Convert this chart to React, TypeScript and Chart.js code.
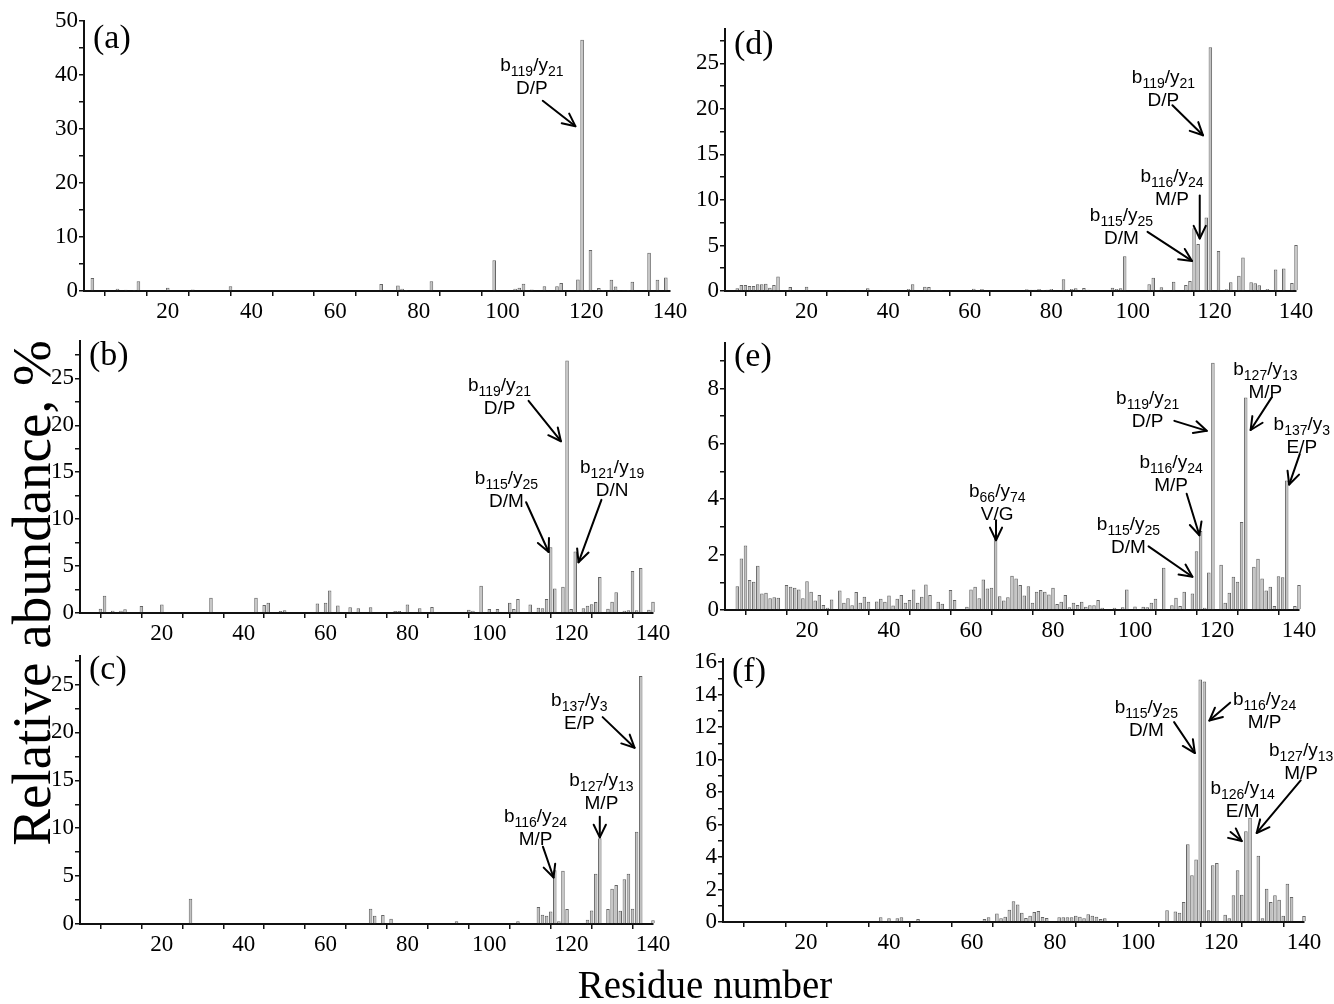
import React, { useEffect, useRef } from 'react';
import { Chart, registerables } from 'chart.js';

Chart.register(...registerables);

// ---------- data: [residue, relative abundance %] ----------
const BARS_A: [number, number][] = [
  [2, 2.4], [8, 0.4], [10, 0.25], [12, 0.2], [13, 1.8], [20, 0.6], [26, 0.3], [35, 0.9], [71, 1.3], [75, 1.0],
  [76, 0.4], [77, 0.2], [83, 1.8], [98, 5.7], [103, 0.4], [104, 0.6], [105, 1.35], [107, 0.3], [110, 0.9],
  [113, 0.9], [114, 1.5], [118, 2.15], [119, 46.5], [121, 7.6], [123, 0.55], [124, 0.2], [126, 2.1], [127, 0.85],
  [129, 0.1], [130, 0.2], [131, 1.7], [135, 7.1], [137, 2.1], [139, 2.5],
];
const BARS_B: [number, number][] = [
  [5, 0.46], [6, 1.84], [8, 0.25], [10, 0.25], [11, 0.4], [15, 0.75], [20, 0.9], [32, 1.63], [43, 1.63], [45, 0.85],
  [46, 1.1], [49, 0.2], [50, 0.3], [58, 1.0], [60, 1.1], [61, 2.4], [63, 0.8], [66, 0.6], [68, 0.5], [71, 0.6],
  [77, 0.2], [78, 0.2], [80, 0.9], [83, 0.5], [86, 0.64], [95, 0.35], [96, 0.25], [98, 2.9], [100, 0.43],
  [102, 0.43], [105, 1.1], [106, 0.43], [107, 1.5], [110, 0.9], [112, 0.57], [113, 0.5], [114, 1.5], [115, 7.0],
  [116, 2.6], [118, 2.8], [119, 26.9], [120, 0.43], [121, 6.56], [123, 0.5], [124, 0.78], [125, 0.92],
  [126, 1.17], [127, 3.83], [129, 0.46], [130, 1.2], [131, 2.2], [133, 0.25], [134, 0.3], [135, 4.47],
  [136, 0.3], [137, 4.8], [139, 0.35], [140, 1.2],
];
const BARS_C: [number, number][] = [
  [27, 2.64], [71, 1.6], [72, 0.87], [74, 0.94], [76, 0.55], [92, 0.28], [107, 0.28], [112, 1.77], [113, 0.97],
  [114, 0.87], [115, 1.3], [116, 5.6], [117, 0.28], [118, 5.55], [119, 1.56], [124, 0.45], [125, 1.42],
  [126, 5.24], [127, 8.95], [129, 1.56], [130, 3.68], [131, 4.06], [132, 1.39], [133, 4.68], [134, 5.24],
  [135, 1.6], [136, 9.64], [137, 25.9], [140, 0.38],
];
const BARS_D: [number, number][] = [
  [3, 0.3], [4, 0.66], [5, 0.66], [6, 0.55], [7, 0.55], [8, 0.73], [9, 0.73], [10, 0.8], [11, 0.37], [12, 0.66],
  [13, 1.6], [16, 0.44], [20, 0.47], [26, 0.1], [30, 0.1], [35, 0.3], [39, 0.1], [40, 0.1], [45, 0.22], [46, 0.73],
  [49, 0.47], [50, 0.44], [52, 0.1], [53, 0.12], [61, 0.25], [63, 0.22], [74, 0.18], [75, 0.15], [76, 0.15],
  [77, 0.22], [78, 0.12], [79, 0.15], [80, 0.22], [82, 0.07], [83, 1.3], [85, 0.22], [86, 0.3], [88, 0.33],
  [89, 0.15], [95, 0.37], [96, 0.22], [97, 0.3], [98, 3.83], [104, 0.73], [105, 1.46], [106, 0.1], [107, 0.4],
  [110, 1.02], [113, 0.66], [114, 1.1], [115, 6.9], [116, 5.15], [118, 8.07], [119, 26.76], [121, 4.38],
  [123, 0.18], [124, 0.95], [126, 1.68], [127, 3.69], [129, 0.95], [130, 0.84], [131, 0.62], [133, 0.22],
  [135, 2.37], [137, 2.48], [139, 0.88], [140, 5.04],
];
const BARS_E: [number, number][] = [
  [3, 0.86], [4, 1.86], [5, 2.33], [6, 1.08], [7, 1.02], [8, 1.6], [9, 0.6], [10, 0.62], [11, 0.42], [12, 0.46],
  [13, 0.44], [15, 0.9], [16, 0.84], [17, 0.8], [18, 0.74], [19, 0.42], [20, 1.04], [21, 0.66], [22, 0.34],
  [23, 0.54], [24, 0.18], [25, 0.08], [26, 0.38], [28, 0.7], [29, 0.26], [30, 0.42], [31, 0.17], [32, 0.65],
  [33, 0.26], [34, 0.48], [35, 0.3], [37, 0.31], [38, 0.41], [39, 0.3], [40, 0.52], [41, 0.16], [42, 0.41],
  [43, 0.54], [44, 0.26], [45, 0.36], [46, 0.74], [47, 0.26], [48, 0.48], [49, 0.92], [50, 0.54], [52, 0.3],
  [53, 0.23], [55, 0.72], [56, 0.36], [59, 0.12], [60, 0.74], [61, 0.84], [62, 0.42], [63, 1.1], [64, 0.78],
  [65, 0.8], [66, 2.58], [67, 0.5], [68, 0.34], [69, 0.46], [70, 1.24], [71, 1.14], [72, 0.9], [73, 0.52],
  [74, 0.86], [75, 0.26], [76, 0.66], [77, 0.72], [78, 0.66], [79, 0.56], [80, 0.8], [81, 0.22], [82, 0.3],
  [83, 0.54], [84, 0.1], [85, 0.26], [86, 0.18], [87, 0.3], [88, 0.12], [89, 0.17], [90, 0.17], [91, 0.36],
  [92, 0.08], [95, 0.08], [97, 0.1], [98, 0.74], [100, 0.13], [102, 0.12], [103, 0.1], [104, 0.26], [105, 0.41],
  [107, 1.53], [109, 0.17], [110, 0.44], [111, 0.14], [112, 0.66], [114, 0.6], [115, 2.12], [116, 2.85],
  [117, 0.08], [118, 1.35], [119, 8.93], [121, 1.63], [122, 0.26], [123, 0.62], [124, 1.2], [125, 1.02],
  [126, 3.18], [127, 7.67], [129, 1.56], [130, 1.85], [131, 1.14], [132, 0.7], [133, 0.84], [134, 0.14],
  [135, 1.22], [136, 1.18], [137, 4.68], [139, 0.14], [140, 0.9],
];
const BARS_F: [number, number][] = [
  [38, 0.29], [40, 0.23], [42, 0.23], [43, 0.29], [47, 0.18], [63, 0.18], [64, 0.29], [66, 0.53], [67, 0.23],
  [68, 0.33], [69, 0.76], [70, 1.27], [71, 1.08], [72, 0.57], [73, 0.25], [74, 0.39], [75, 0.62], [76, 0.68],
  [77, 0.31], [78, 0.25], [81, 0.29], [82, 0.29], [83, 0.29], [84, 0.29], [85, 0.39], [86, 0.33], [87, 0.23],
  [88, 0.47], [89, 0.39], [90, 0.33], [91, 0.18], [92, 0.23], [107, 0.72], [109, 0.64], [110, 0.57], [111, 1.23],
  [112, 4.78], [113, 2.87], [114, 3.84], [115, 14.93], [116, 14.81], [117, 0.72], [118, 3.49], [119, 3.63],
  [121, 0.45], [122, 0.23], [123, 1.64], [124, 3.18], [125, 1.68], [126, 5.58], [127, 6.42], [129, 4.08],
  [130, 0.23], [131, 2.05], [132, 1.23], [133, 1.64], [134, 1.37], [135, 0.39], [136, 2.36], [137, 1.54],
  [140, 0.37],
];

// ---------- annotations (data coordinates: [residue, value]) ----------
type Anno = { at: [number, number]; n1: string; n2: string; site: string; from: [number, number]; to: [number, number] };

const ANNO_A: Anno[] = [
  { at: [107, 37.8], n1: '119', n2: '21', site: 'D/P', from: [109.6, 35.2], to: [117.4, 30.5] },
];
const ANNO_B: Anno[] = [
  { at: [102.5, 22.0], n1: '119', n2: '21', site: 'D/P', from: [109.6, 22.6], to: [117.5, 18.3] },
  { at: [104.2, 12.0], n1: '115', n2: '25', site: 'D/M', from: [109, 11.8], to: [114.5, 6.5] },
  { at: [130, 13.2], n1: '121', n2: '19', site: 'D/N', from: [127.4, 12.05], to: [121.8, 5.4] },
];
const ANNO_C: Anno[] = [
  { at: [122, 21.1], n1: '137', n2: '3', site: 'E/P', from: [127.7, 21.6], to: [135.5, 18.4] },
  { at: [127.4, 12.7], n1: '127', n2: '13', site: 'M/P', from: [127, 11.2], to: [127, 9.05] },
  { at: [111.3, 8.95], n1: '116', n2: '24', site: 'M/P', from: [113.1, 8.07], to: [115.7, 4.85] },
];
const ANNO_D: Anno[] = [
  { at: [107.5, 21.06], n1: '119', n2: '21', site: 'D/P', from: [109.7, 20.4], to: [117.2, 17.1] },
  { at: [109.6, 10.18], n1: '116', n2: '24', site: 'M/P', from: [116.4, 10.5], to: [116.4, 5.77] },
  { at: [97.2, 5.95], n1: '115', n2: '25', site: 'D/M', from: [103.6, 6.5], to: [114.5, 3.3] },
];
const ANNO_E: Anno[] = [
  { at: [66.4, 3.5], n1: '66', n2: '74', site: 'V/G', from: [66.1, 3.24], to: [66.1, 2.52] },
  { at: [103.1, 6.85], n1: '119', n2: '21', site: 'D/P', from: [109.6, 6.83], to: [117.5, 6.47] },
  { at: [131.8, 7.91], n1: '127', n2: '13', site: 'M/P', from: [133.3, 7.67], to: [128.2, 6.5] },
  { at: [140.7, 5.94], n1: '137', n2: '3', site: 'E/P', from: [140.2, 5.64], to: [137.6, 4.53] },
  { at: [108.8, 4.56], n1: '116', n2: '24', site: 'M/P', from: [112.6, 4.2], to: [115.7, 2.7] },
  { at: [98.4, 2.3], n1: '115', n2: '25', site: 'D/M', from: [103.3, 2.3], to: [114, 1.2] },
];
const ANNO_F: Anno[] = [
  { at: [102, 11.9], n1: '115', n2: '25', site: 'D/M', from: [108.7, 12.3], to: [113.7, 10.4] },
  { at: [130.5, 12.4], n1: '116', n2: '24', site: 'M/P', from: [122.2, 13.5], to: [117.2, 12.4] },
  { at: [139.3, 9.23], n1: '127', n2: '13', site: 'M/P', from: [139.2, 8.72], to: [128.6, 5.48] },
  { at: [125.2, 6.92], n1: '126', n2: '14', site: 'E/M', from: [122.3, 5.54], to: [125, 4.98] },
];

const X_MAX = 140;
const X_STEP = 10;
const X_LABEL_EVERY = 20;

type Panel = {
  id: string; label: string; bars: [number, number][]; annos: Anno[];
  yMax: number; yStep: number; yLabelEvery: number;
  box: { left: number; top: number; right: number; bottom: number }; labelDy: number; padR: number;
};

const PANELS: Panel[] = [
  { id: 'a', label: '(a)', bars: BARS_A, annos: ANNO_A, yMax: 50, yStep: 5, yLabelEvery: 10,
    box: { left: 84, top: 20, right: 670, bottom: 291 }, labelDy: 18, padR: 40 },
  { id: 'b', label: '(b)', bars: BARS_B, annos: ANNO_B, yMax: 29, yStep: 2.5, yLabelEvery: 5,
    box: { left: 80, top: 340, right: 653, bottom: 613 }, labelDy: 15, padR: 40 },
  { id: 'c', label: '(c)', bars: BARS_C, annos: ANNO_C, yMax: 28, yStep: 2.5, yLabelEvery: 5,
    box: { left: 80, top: 655, right: 653, bottom: 924 }, labelDy: 14, padR: 40 },
  { id: 'd', label: '(d)', bars: BARS_D, annos: ANNO_D, yMax: 28.8, yStep: 2.5, yLabelEvery: 5,
    box: { left: 725, top: 28, right: 1296, bottom: 291 }, labelDy: 16, padR: 38 },
  { id: 'e', label: '(e)', bars: BARS_E, annos: ANNO_E, yMax: 9.65, yStep: 1, yLabelEvery: 2,
    box: { left: 725, top: 342, right: 1299, bottom: 610 }, labelDy: 14, padR: 35 },
  { id: 'f', label: '(f)', bars: BARS_F, annos: ANNO_F, yMax: 16.2, yStep: 1, yLabelEvery: 2,
    box: { left: 723, top: 658, right: 1304, bottom: 922 }, labelDy: 13, padR: 30 },
];

const PAD_L = 52;
const PAD_T = 14;
const PAD_B = 42;
const SERIF = '"Liberation Serif", "Times New Roman", serif';
const SANS = '"Liberation Sans", Arial, sans-serif';
const AXIS_COLOR = '#111';

function makeAnnoPlugin(p: Panel) {
  return {
    id: 'anno_' + p.id,
    afterDraw(chart: any) {
      const { ctx, chartArea } = chart;
      const xs = chart.scales.x;
      const ys = chart.scales.y;
      ctx.save();
      ctx.fillStyle = '#000';
      ctx.strokeStyle = '#000';
      ctx.font = '34px ' + SERIF;
      ctx.textAlign = 'left';
      ctx.textBaseline = 'middle';
      ctx.fillText(p.label, chartArea.left + 9, chartArea.top + p.labelDy);

      for (const a of p.annos) {
        const cx = xs.getPixelForValue(a.at[0]);
        const cy = ys.getPixelForValue(a.at[1]);
        const base2 = cy + 7;
        const base1 = base2 - 23;
        ctx.textBaseline = 'alphabetic';
        ctx.textAlign = 'left';
        ctx.font = '19px ' + SANS;
        const w2 = ctx.measureText(a.site).width;
        ctx.fillText(a.site, cx - w2 / 2, base2);
        const runs = [
          { t: 'b', sub: false }, { t: a.n1, sub: true }, { t: '/y', sub: false }, { t: a.n2, sub: true },
        ];
        let total = 0;
        const widths: number[] = [];
        for (const r of runs) {
          ctx.font = (r.sub ? '14px ' : '19px ') + SANS;
          const w = ctx.measureText(r.t).width;
          widths.push(w);
          total += w;
        }
        let px = cx - total / 2;
        runs.forEach((r, i) => {
          ctx.font = (r.sub ? '14px ' : '19px ') + SANS;
          ctx.fillText(r.t, px, r.sub ? base1 + 5 : base1);
          px += widths[i];
        });

        const sx = xs.getPixelForValue(a.from[0]);
        const sy = ys.getPixelForValue(a.from[1]);
        const tx = xs.getPixelForValue(a.to[0]);
        const ty = ys.getPixelForValue(a.to[1]);
        ctx.lineWidth = 2;
        ctx.lineCap = 'round';
        ctx.lineJoin = 'round';
        ctx.beginPath();
        ctx.moveTo(sx, sy);
        ctx.lineTo(tx, ty);
        ctx.stroke();
        const ang = Math.atan2(ty - sy, tx - sx);
        const hl = 14;
        const ha = 0.45;
        ctx.beginPath();
        ctx.moveTo(tx - hl * Math.cos(ang - ha), ty - hl * Math.sin(ang - ha));
        ctx.lineTo(tx, ty);
        ctx.lineTo(tx - hl * Math.cos(ang + ha), ty - hl * Math.sin(ang + ha));
        ctx.stroke();
      }
      ctx.restore();
    },
  };
}

function PanelChart({ p }: { p: Panel }) {
  const ref = useRef<HTMLCanvasElement>(null);
  const w = PAD_L + (p.box.right - p.box.left) + p.padR;
  const h = PAD_T + (p.box.bottom - p.box.top) + PAD_B;

  useEffect(() => {
    if (!ref.current) return;
    const lookup = new Map<number, number>(p.bars);
    const data: { x: number; y: number | null }[] = [];
    for (let r = 1; r <= X_MAX; r++) data.push({ x: r, y: lookup.has(r) ? (lookup.get(r) as number) : null });

    const tickFont = { family: SERIF, size: 23 };
    const chart = new Chart(ref.current, {
      type: 'bar',
      data: {
        datasets: [
          {
            data: data as any,
            backgroundColor: '#c2c2c2',
            borderColor: '#666666',
            borderWidth: 1,
            barPercentage: 0.86,
            categoryPercentage: 1,
            clip: false as any,
          },
        ],
      },
      options: {
        animation: false,
        responsive: false,
        maintainAspectRatio: false,
        layout: { padding: { left: 0, top: PAD_T, right: p.padR, bottom: 0 } },
        plugins: { legend: { display: false }, tooltip: { enabled: false } },
        scales: {
          x: {
            type: 'linear',
            min: 0,
            max: X_MAX,
            offset: false,
            grid: { display: true, drawOnChartArea: false, drawTicks: true, tickLength: 5, color: AXIS_COLOR, lineWidth: 1.5 },
            border: { display: true, color: AXIS_COLOR, width: 2 },
            ticks: {
              stepSize: X_STEP,
              includeBounds: false,
              autoSkip: false,
              maxRotation: 0,
              minRotation: 0,
              padding: 2,
              color: '#000',
              font: tickFont,
              callback: (v: any) => {
                const n = Number(v);
                return n > 0 && n % X_LABEL_EVERY === 0 ? String(n) : '';
              },
            },
            afterFit: (s: any) => { s.height = PAD_B; },
          } as any,
          y: {
            type: 'linear',
            min: 0,
            max: p.yMax,
            grid: { display: true, drawOnChartArea: false, drawTicks: true, tickLength: 5, color: AXIS_COLOR, lineWidth: 1.5 },
            border: { display: true, color: AXIS_COLOR, width: 2 },
            ticks: {
              stepSize: p.yStep,
              includeBounds: false,
              autoSkip: false,
              padding: 1,
              color: '#000',
              font: tickFont,
              callback: (v: any) => {
                const n = Number(v);
                const q = n / p.yLabelEvery;
                return Math.abs(q - Math.round(q)) < 1e-6 ? String(n) : '';
              },
            },
            afterFit: (s: any) => { s.width = PAD_L; },
          } as any,
        },
      },
      plugins: [makeAnnoPlugin(p)],
    });
    return () => chart.destroy();
  }, [p]);

  return (
    <canvas
      ref={ref}
      width={w}
      height={h}
      style={{ position: 'absolute', left: p.box.left - PAD_L, top: p.box.top - PAD_T, width: w, height: h }}
    />
  );
}

export default function App() {
  return (
    <div style={{ position: 'absolute', left: 0, top: 0, width: 1334, height: 1004, background: '#fff', overflow: 'hidden' }}>
      {PANELS.map((p) => (
        <PanelChart key={p.id} p={p} />
      ))}
      <div
        style={{
          position: 'absolute', left: -318, top: 563, width: 700, height: 60, lineHeight: '60px',
          textAlign: 'center', fontFamily: SERIF, fontSize: 55, color: '#000', whiteSpace: 'nowrap',
          transform: 'rotate(-90deg)',
        }}
      >
        Relative abundance, %
      </div>
      <div
        style={{
          position: 'absolute', left: 405, top: 963, width: 600, height: 44, lineHeight: '44px',
          textAlign: 'center', fontFamily: SERIF, fontSize: 39, color: '#000', whiteSpace: 'nowrap',
        }}
      >
        Residue number
      </div>
    </div>
  );
}
